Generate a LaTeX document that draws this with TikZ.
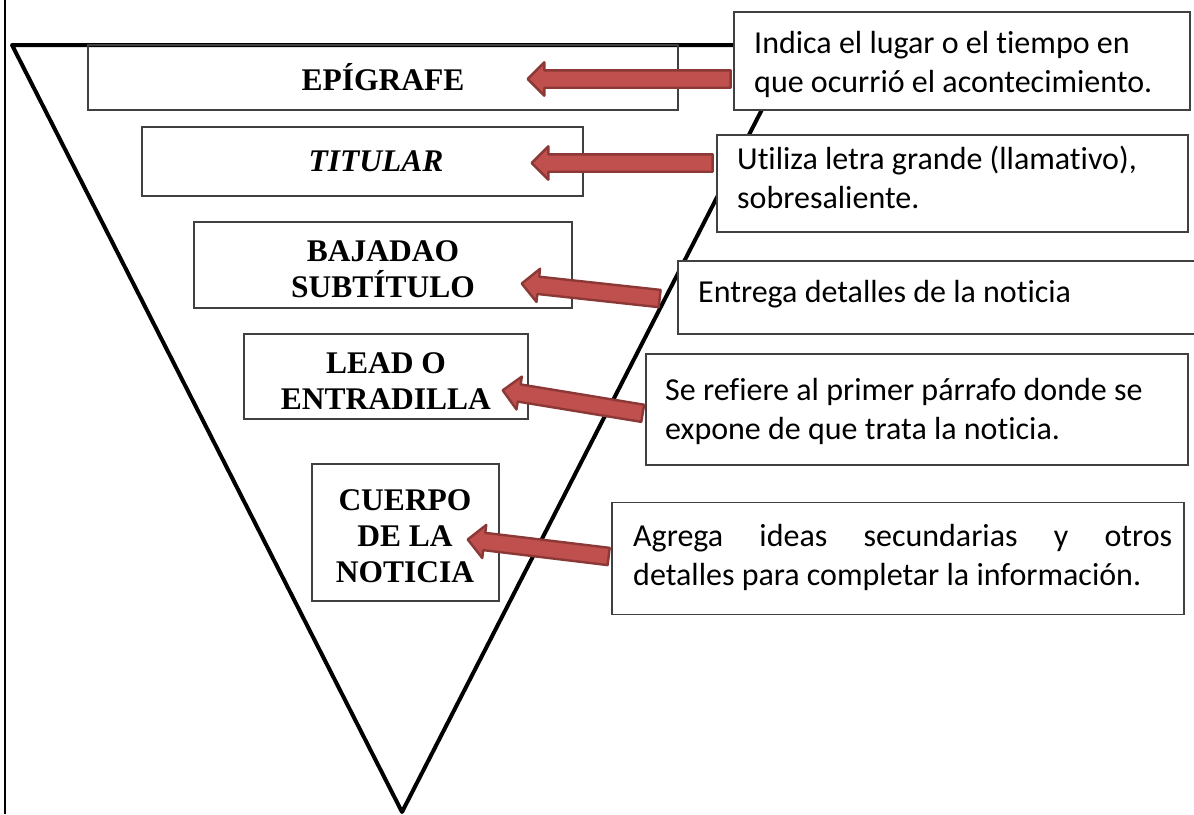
\documentclass[tikz,border=0pt]{standalone}
\usepackage{fontspec}
\setmainfont{Liberation Serif}
\newfontfamily\calib[Ligatures=NoCommon]{Carlito}
\usetikzlibrary{shapes.arrows,calc}
\definecolor{arrfill}{HTML}{C0504D}
\definecolor{arrline}{HTML}{8C3836}
\definecolor{boxline}{HTML}{404040}
\tikzset{
 lbox/.style={draw=boxline, line width=1.4pt, inner sep=0pt, rectangle},
 rbox/.style={draw=boxline, line width=1.4pt, fill=white, inner sep=0pt, rectangle},
 ltext/.style={font=\fontsize{31.5}{36}\selectfont\bfseries, align=center, inner sep=0pt},
 rtext/.style={font=\calib\fontsize{32}{39}\selectfont, align=left, inner sep=0pt, anchor=west},
 blkarrow/.style={single arrow, draw=arrline, fill=arrfill, line width=2.4pt, inner xsep=0pt, inner ysep=7.5pt, single arrow head extend=8pt, single arrow tip angle=90, line join=round},
}
\newcommand{\blockarr}[3]{\path let \p1=($(#3)-(#2)$), \n1={atan2(\y1,\x1)}, \n2={veclen(\x1,\y1)} in node[blkarrow, minimum height=\n2, rotate=\n1] (#1) at ($(#2)!0.5!(#3)$) {};}
\begin{document}
\begin{tikzpicture}[x=1pt,y=-1pt]
\useasboundingbox (0,0) rectangle (1194,814);
% page border and pyramid
\draw[line width=2pt] (5,0) -- (5,814);
\draw[line width=4pt, line join=round] (12,45) -- (795,45) -- (402,812) -- cycle;
% left boxes
\node[lbox, ltext, minimum width=590pt, minimum height=65pt] (epi) at (383,77.5) {EPÍGRAFE};
\node[lbox, minimum width=441pt, minimum height=69pt] (tit) at (362.5,161.5) {};
\node[ltext] (titT) at (376,161) {\textit{TITULAR}};
\node[lbox, minimum width=378pt, minimum height=86pt] (baj) at (383,265) {};
\node[ltext] (bajT) at (383,269) {BAJADAO\\SUBTÍTULO};
\node[lbox, minimum width=284pt, minimum height=85pt] (lead) at (386,376.5) {};
\node[ltext] (leadT) at (386,381) {LEAD O\\ENTRADILLA};
\node[lbox, minimum width=187pt, minimum height=137pt] (cue) at (405.5,532.5) {};
\node[ltext] (cueT) at (405,536) {CUERPO\\DE LA\\NOTICIA};
% right boxes
\node[rbox, minimum width=456pt, minimum height=98pt] (r1) at (962,61) {};
\node[rtext] (r1T) at (754,64) {Indica el lugar o el tiempo en\\que ocurrió el acontecimiento.};
\node[rbox, minimum width=471pt, minimum height=97pt] (r2) at (952.5,183.5) {};
\node[rtext] (r2T) at (737,177) {Utiliza letra grande (llamativo),\\sobresaliente.};
\node[rbox, minimum width=522pt, minimum height=73pt] (r3) at (939,297.5) {};
\node[rtext] (r3T) at (698,294) {Entrega detalles de la noticia};
\node[rbox, minimum width=542pt, minimum height=111pt] (r4) at (917,409.5) {};
\node[rtext] (r4T) at (665,411) {Se refiere al primer párrafo donde se\\expone de que trata la noticia.};
\node[rbox, minimum width=572pt, minimum height=112pt] (r5) at (898,558.5) {};
\node[rtext] (r5T) at (633,557) {\makebox[539pt][s]{Agrega ideas secundarias y otros}\\detalles para completar la información.};
% arrows
\coordinate (a1s) at (735,79); \coordinate (a1e) at (532,79);
\coordinate (a2s) at (717,163); \coordinate (a2e) at (536,163);
\coordinate (a3s) at (664,299); \coordinate (a3e) at (526,284);
\coordinate (a4s) at (647,414); \coordinate (a4e) at (507,391);
\coordinate (a5s) at (613,557); \coordinate (a5e) at (472,540);
\blockarr{arr1}{a1s}{a1e}
\blockarr{arr2}{a2s}{a2e}
\blockarr{arr3}{a3s}{a3e}
\blockarr{arr4}{a4s}{a4e}
\blockarr{arr5}{a5s}{a5e}
\end{tikzpicture}
\end{document}
